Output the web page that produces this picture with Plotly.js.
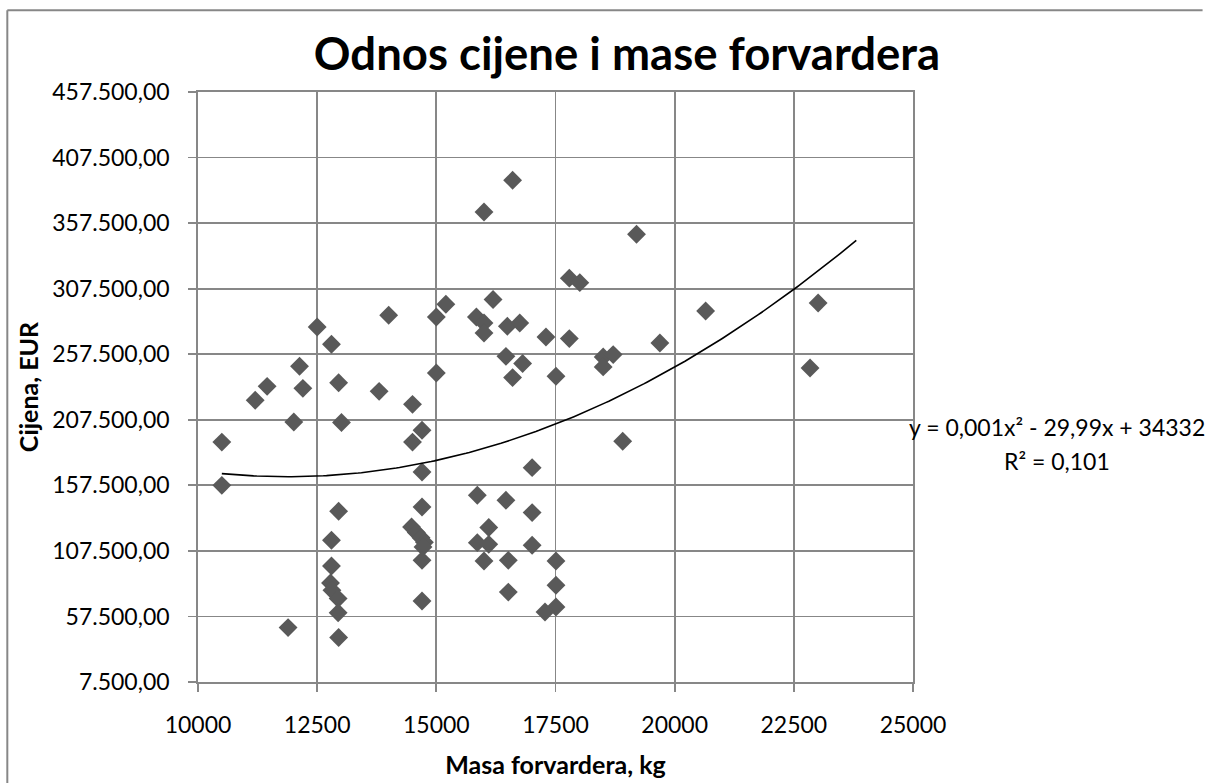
<!DOCTYPE html>
<html>
<head>
<meta charset="utf-8">
<script src="https://cdn.plot.ly/plotly-3.0.1.min.js"></script>
<style>
  html, body { margin: 0; padding: 0; background: #fff; }
  #chart { width: 1210px; height: 783px; }
</style>
</head>
<body>
<div id="chart"></div>
<script>
// Masa forvardera (kg)
const masa = [
  10500, 10500, 11200, 11450, 11890, 12010, 12130, 12200, 12500, 12800,
  12800, 12800, 12780, 12810, 12940, 12940, 12950, 12950, 13010, 12950,
  13800, 14000, 14500, 14500, 14700, 14700, 14700,
  14480, 14580, 14680, 14750, 14720,
  14700, 14700, 15000, 15200, 15000, 15840, 16000, 16000, 16000, 16600,
  16190, 16490, 16750, 16460, 16810, 16600, 17300, 17790, 17510, 17790,
  18010, 19200, 20650, 23010, 19690, 18500, 18710, 18500, 22840, 18910,
  17010, 15860, 16460, 17010, 16100, 15860, 16100, 17010, 16000, 16510,
  17510, 16510, 17510, 17510, 17280
];
// Cijena (EUR)
const cijena = [
  190500, 157500, 222400, 233000, 49000, 205800, 248300, 231500, 278300, 265100,
  115600, 96000, 83000, 77400, 71100, 60300, 41400, 235700, 205400, 137700,
  229200, 287200, 219300, 190500, 199500, 167700, 141000,
  125700, 121500, 117500, 114000, 110500,
  100300, 69300, 285900, 295600, 243200, 285900, 281300, 273700, 366000, 390200,
  299200, 278800, 281300, 255900, 250400, 239700, 270600, 269400, 240700, 315500,
  312100, 349000, 290500, 296600, 266100, 255400, 257200, 247800, 247000, 191100,
  171000, 149900, 146100, 136700, 125300, 113800, 112500, 111800, 99800, 100300,
  99800, 76100, 81300, 64700, 60900
];

const titleText = 'Odnos cijene i mase forvardera';
const xTitle = 'Masa forvardera, kg';
const yTitle = 'Cijena, EUR';
const eqText = 'y = 0,001x² - 29,99x + 34332';
const r2Text = 'R² = 0,101';

// Polynomial trend line (order 2) coefficients
const trendA = 0.0012637;
const trendB = -29.99;
const trendC = 342000;
const trendStart = 10500;
const trendEnd = 23810;

const trendX = [], trendY = [];
for (let i = 0; i <= 200; i++) {
  const x = trendStart + (trendEnd - trendStart) * i / 200;
  trendX.push(x); trendY.push(trendA * x * x + trendB * x + trendC);
}

const FONT = 'Lato, "Open Sans", sans-serif';
const gridC = '#878787';

const traces = [
  {
    type: 'scatter', mode: 'markers', x: masa, y: cijena,
    marker: { symbol: 'diamond', size: 14.5, color: '#595959', line: { width: 0 } },
    hoverinfo: 'x+y', showlegend: false
  },
  {
    type: 'scatter', mode: 'lines', x: trendX, y: trendY,
    line: { color: '#000000', width: 1.6 }, hoverinfo: 'skip', showlegend: false
  }
];

const layout = {
  width: 1210, height: 783,
  margin: { l: 198, r: 297, t: 92, b: 101 },
  paper_bgcolor: '#ffffff', plot_bgcolor: '#ffffff',
  separators: ',.',
  showlegend: false,
  font: { family: FONT, size: 23, color: '#000000' },
  title: {
    text: titleText,
    font: { family: FONT, size: 45.5, weight: 700, color: '#000000' },
    x: 627 / 1210, xref: 'container', xanchor: 'center',
    y: 1 - 54 / 783, yref: 'container', yanchor: 'middle'
  },
  xaxis: {
    range: [10000, 25000], tick0: 10000, dtick: 2500, tickformat: 'd',
    showgrid: true, gridcolor: gridC, gridwidth: 1.8,
    showline: true, linecolor: gridC, linewidth: 1.8, mirror: true,
    ticks: 'outside', ticklen: 8, tickwidth: 1.8, tickcolor: gridC,
    zeroline: false, ticklabelstandoff: 14,
    tickfont: { family: FONT, size: 23, color: '#000000' },
    title: { text: xTitle, font: { family: FONT, size: 25, weight: 700, color: '#000000' }, standoff: 19 }
  },
  yaxis: {
    range: [7500, 457500], tick0: 7500, dtick: 50000, tickformat: ',.2f',
    showgrid: true, gridcolor: gridC, gridwidth: 1.8,
    showline: true, linecolor: gridC, linewidth: 1.8, mirror: true,
    ticks: 'outside', ticklen: 8, tickwidth: 1.8, tickcolor: gridC,
    zeroline: false, ticklabelstandoff: 14,
    tickfont: { family: FONT, size: 23, color: '#000000' },
    title: { text: yTitle, font: { family: FONT, size: 25, weight: 700, color: '#000000' }, standoff: 6 }
  },
  annotations: [
    { text: eqText, xref: 'paper', yref: 'paper', x: 1.2007, y: 0.433, xanchor: 'center', yanchor: 'middle',
      showarrow: false, font: { family: FONT, size: 23, color: '#000000' } },
    { text: r2Text, xref: 'paper', yref: 'paper', x: 1.2007, y: 0.3745, xanchor: 'center', yanchor: 'middle',
      showarrow: false, font: { family: FONT, size: 23, color: '#000000' } }
  ],
  shapes: [
    { type: 'line', xref: 'paper', yref: 'paper', x0: -0.2667, x1: 1.405, y0: 1.1385, y1: 1.1385,
      line: { color: gridC, width: 2 } },
    { type: 'line', xref: 'paper', yref: 'paper', x0: -0.2667, x1: -0.2667, y0: 1.1385, y1: -0.2,
      line: { color: gridC, width: 2 } }
  ]
};

Plotly.newPlot('chart', traces, layout, { displayModeBar: false, staticPlot: true });
</script>
</body>
</html>
